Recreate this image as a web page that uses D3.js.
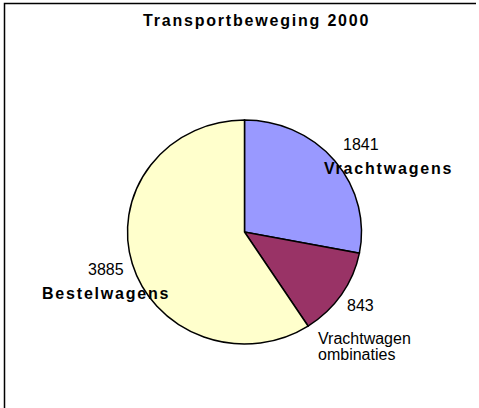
<!DOCTYPE html>
<html>
<head>
<meta charset="utf-8">
<script src="https://cdn.jsdelivr.net/npm/d3@7"></script>
<style>
  body { margin: 0; background: #fff; }
  text { font-family: "Liberation Sans", Arial, sans-serif; }
</style>
</head>
<body>
<div id="chart"></div>
<script>
// data
var categories = ["Vrachtwagens", "Vrachtwagen combinaties", "Bestelwagens"];
var values = [1841, 843, 3885];
var colors = ["#9999ff", "#993366", "#ffffcc"];
var title = "Transportbeweging 2000";

var width = 479, height = 408;

var svg = d3.select("#chart")
  .append("svg")
  .attr("width", width)
  .attr("height", height);

// chart area border: only top and left edges are visible in the original
svg.append("path")
  .attr("d", "M4.5,408 L4.5,3.5 L476,3.5")
  .attr("fill", "none")
  .attr("stroke", "#000")
  .attr("stroke-width", 1.5);

svg.append("text")
  .attr("x", 143).attr("y", 26)
  .attr("font-size", 16)
  .attr("font-weight", "bold")
  .attr("letter-spacing", 1.8)
  .text(title);

var cx = 244.5, cy = 232, rx = 117, ry = 112;

var pie = d3.pie().sort(null).value(function(d) { return d; });
var arc = d3.arc().innerRadius(0).outerRadius(rx);

var g = svg.append("g")
  .attr("transform", "translate(" + cx + "," + cy + ") scale(1," + (ry / rx) + ")");

g.selectAll("path")
  .data(pie(values))
  .enter().append("path")
    .attr("d", arc)
    .attr("fill", function(d, i) { return colors[i]; })
    .attr("stroke", "#000")
    .attr("stroke-width", 1.5)
    .attr("vector-effect", "non-scaling-stroke");

// labels
var labels = [
  { lines: ["1841"], x: 343, y: 150, bold: false },
  { lines: ["Vrachtwagens"], x: 324, y: 174, bold: true },
  { lines: ["3885"], x: 88, y: 275, bold: false },
  { lines: ["Bestelwagens"], x: 42, y: 299, bold: true },
  { lines: ["843"], x: 347, y: 311, bold: false },
  { lines: ["Vrachtwagen", "ombinaties"], x: 318, y: 344, bold: false }
];

labels.forEach(function(l) {
  var t = svg.append("text")
    .attr("x", l.x).attr("y", l.y)
    .attr("font-size", 16)
    .attr("font-weight", l.bold ? "bold" : "normal")
    .attr("letter-spacing", l.bold ? 1.8 : 0);
  l.lines.forEach(function(s, i) {
    t.append("tspan").attr("x", l.x).attr("dy", i == 0 ? 0 : 16).text(s);
  });
});
</script>
</body>
</html>
